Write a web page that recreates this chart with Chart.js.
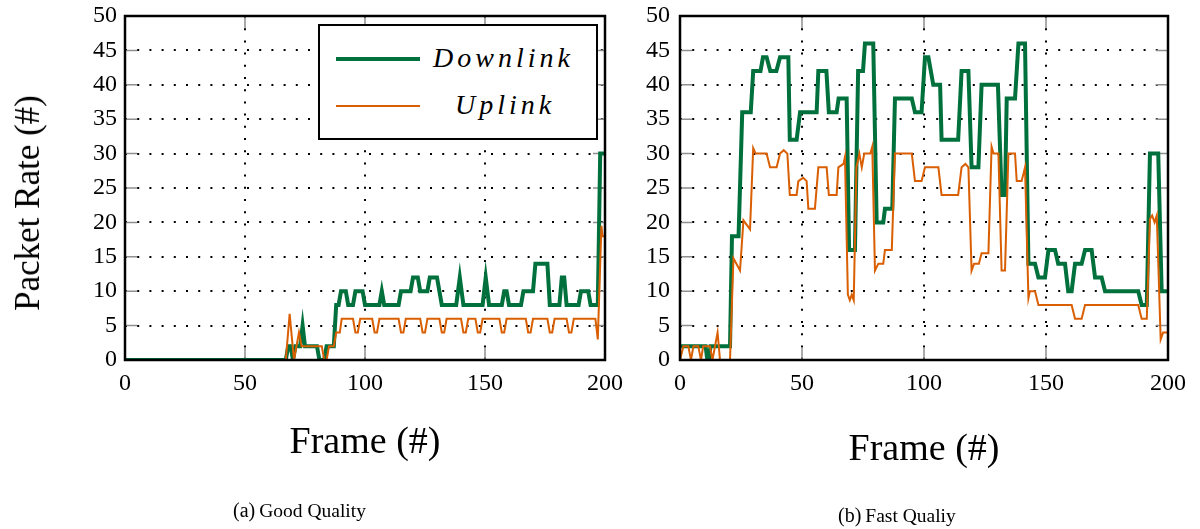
<!DOCTYPE html>
<html>
<head>
<meta charset="utf-8">
<script src="https://cdn.jsdelivr.net/npm/chart.js@4/dist/chart.umd.min.js"></script>
<style>
  body { margin: 0; background: #fff; font-family: "Liberation Serif", "Times New Roman", serif; }
  #page { position: relative; width: 1200px; height: 529px; overflow: hidden; }
  canvas { position: absolute; top: 0; }
  .txt { position: absolute; color: #000; white-space: nowrap; }
  #legend { position: absolute; left: 318px; top: 24px; width: 280px; height: 116px; box-sizing: border-box;
            border: 2.5px solid #000; background: #fff; }
  .lg-line { position: absolute; left: 16px; width: 84px; }
  .lg-text { position: absolute; font-style: italic; font-size: 28px; letter-spacing: 4px; line-height: 32px; }
</style>
</head>
<body>
<div id="page">
  <canvas id="good" width="630" height="529" style="left:0"></canvas>
  <canvas id="fast" width="570" height="529" style="left:630px"></canvas>

  <div class="txt" id="ytitle" style="font-size:35px; left:28px; top:203px; transform: translate(-50%, -50%) rotate(-90deg);">Packet Rate (#)</div>

  <div id="legend">
    <div class="lg-line" style="top:31px; height:4px; background:#00703c;"></div>
    <div class="lg-text" style="left:113px; top:16px;">Downlink</div>
    <div class="lg-line" style="top:79px; height:2px; background:#d95f02;"></div>
    <div class="lg-text" style="left:135px; top:63px;">Uplink</div>
  </div>

  <div class="txt" style="left:233px; top:499px;"><span style="font-size:20px">(a)</span> <span style="font-size:19.5px">Good Quality</span></div>
  <div class="txt" style="left:838px; top:504px;"><span style="font-size:20px">(b)</span> <span style="font-size:19.5px">Fast Qualiy</span></div>
</div>

<script>
// tick labels
const xTicks = [0, 50, 100, 150, 200];
const yTicks = [0, 5, 10, 15, 20, 25, 30, 35, 40, 45, 50];

// (a) Good Quality  -- [frame, packets]
const goodDownlink = [
  [0,0],[67,0],[68,2],[69,2],[70,0],[71,2],[73,2],[74,5],[75,2],[80,2],[81,0],[83,0],[84,2],[87,2],
  [88,8],[89,8],[90,10],[92,10],[93,8],[95,8],[96,10],[99,10],[100,8],[106,8],[107,10],[108,8],
  [114,8],[115,10],[119,10],[120,12],[122,12],[123,10],[126,10],[127,12],[130,12],[132,8],
  [138,8],[139.5,12],[141,8],[149,8],[150.3,12],[151.7,8],[157,8],[158,10],[159,10],[160,8],
  [165,8],[166,10],[170,10],[171,14],[176,14],[177,8],[181,8],[182,12],[183,12],[184,8],
  [189,8],[190,10],[193,10],[194,8],[197,8],[198,30],[200,30]
];
const goodUplink = [
  [0,0],[67,0],[68.6,6.7],[70.4,0],[72.5,4],[73.6,2],[82,2],[83,0],[84,0],[85,2],[87,2],[88,4],[89.5,4],[90.3,6],
  [95,6],[96,4],[97,4],[98,6],
  [103,6],[104,4],[105,4],[106,6],
  [114,6],[115,4],[116,4],[117,6],
  [123,6],[124,4],[125,4],[126,6],
  [131,6],[132,4],[133,4],[134,6],
  [140,6],[141,4],[142,4],[143,6],
  [146,6],[147,4],[148,4],[149,6],
  [156,6],[157,4],[158,4],[159,6],
  [167,6],[168,4],[169,4],[170,6],
  [176,6],[177,4],[178,4],[179,6],
  [184,6],[185,4],[186,4],[187,6],
  [196,6],[197,3],[198.5,19.5],[199,18],[200,18]
];

// (b) Fast Qualiy  -- [frame, packets]
const fastDownlink = [
  [0,2],[10.5,2],[11.2,0],[11.8,0],[12.5,2],[20.5,2],[21.3,18],[24,18],[25.5,36],[29,36],[30,42],[33,42],
  [34,44],[35.5,44],[37,42],[39.5,42],[41,44],[44.4,44],[45,32],[47.8,32],[49.2,36],[56,36],[56.7,42],[60,42],
  [61,36],[64.2,36],[65,38],[68.3,38],[69.3,16],[71.7,16],[73,42],[75,42],[75.8,46],[79.2,46],[80.6,20],[83.3,20],
  [84,22],[87,22],[88.1,38],[95,38],[96.3,36],[99,36],[100.4,44],[101.8,44],[103.8,40],[106.6,40],[107.2,32],[114,32],
  [115.4,42],[118.2,42],[119.5,28],[122.3,28],[123.6,40],[130.3,40],[131.8,24],[133.2,24],[133.9,38],[137.3,38],
  [138.7,46],[141.4,46],[142.8,14],[145.5,14],[146.9,12],[149.6,12],[151,16],[153.7,16],[155,14],[157.8,14],
  [159.1,10],[160.5,10],[161.9,14],[164.6,14],[166,16],[168.7,16],[170.1,12],[172.8,12],[174.2,10],[187.8,10],
  [189.2,8],[191.3,8],[192.6,30],[196,30],[197.4,10],[200,10]
];
const fastUplink = [
  [0,0],[1.4,2],[3.4,2],[4.5,0],[5.5,2],[7.5,2],[8.6,0],[9.5,2],[12.3,2],[13.3,0],[15.4,4],[16.4,0],[20.5,0],
  [21.9,14.8],[24.6,13],[26,20.3],[28.7,19],[30,30.8],[31,30],[35.5,30],[36.9,28],[39.6,28],[41,30],[42.5,30.5],[44,30],
  [45,24],[47.8,24],[48.5,26],[50.5,26.5],[51.9,26],[52.6,22],[55.3,22],[56.7,28],[60.1,28],[61,24],[64.2,24],
  [64.9,28],[67,28.5],[67.6,29.5],[68.8,9.5],[69.6,8.7],[70.4,9.5],[71.2,8.7],[72.3,28],[73.5,30],[74.5,28],[75.5,30],
  [78,30],[78.8,31],[79.9,13],[81.3,14],[83.3,14],[84,16],[86.8,16],[88.1,30],[95,30],[96.3,26],[99,26],[100.4,28],
  [105.9,28],[107.2,24],[114,24],[115.4,28],[117,28.5],[118.2,28],[119.5,13],[120.5,14],[122.5,14],[123.6,15.5],
  [126.4,15.5],[127.7,31],[128.5,30],[130.5,30],[131.8,13],[133.2,13],[134.6,30],[137.3,30],[138,26],[140,26],
  [141.4,28],[142.8,9],[143.4,10],[145.5,10],[146.9,8],[160.5,8],[161.9,6],[164.6,6],[166,8],[187.8,8],
  [189.2,6],[191.3,6],[192.6,20.5],[193.5,21],[194.5,20],[195.4,21],[197,3],[198,4],[200,4]
];

const SERIF = '"Liberation Serif", "Times New Roman", serif';
const GREEN = '#00703c';
const ORANGE = '#d95f02';

// inward grey tick marks on all four sides + black frame
const frameTicks = {
  id: 'frameTicks',
  beforeDatasetsDraw(chart) {
    const {ctx, chartArea: a, scales: {x, y}} = chart;
    const len = 12;
    ctx.save();
    ctx.strokeStyle = '#8f8f8f';
    ctx.lineWidth = 1.5;
    ctx.beginPath();
    x.ticks.forEach(t => {
      const px = x.getPixelForValue(t.value);
      ctx.moveTo(px, a.bottom); ctx.lineTo(px, a.bottom - len);
      ctx.moveTo(px, a.top); ctx.lineTo(px, a.top + len);
    });
    y.ticks.forEach(t => {
      const py = y.getPixelForValue(t.value);
      ctx.moveTo(a.left, py); ctx.lineTo(a.left + len, py);
      ctx.moveTo(a.right, py); ctx.lineTo(a.right - len, py);
    });
    ctx.stroke();
    ctx.restore();
  },
  afterDatasetsDraw(chart) {
    const {ctx, chartArea: a} = chart;
    ctx.save();
    ctx.strokeStyle = '#000';
    ctx.lineWidth = 2.5;
    ctx.strokeRect(a.left, a.top, a.right - a.left, a.bottom - a.top);
    ctx.restore();
  }
};

function makeChart(id, down, up, opt) {
  return new Chart(document.getElementById(id), {
    type: 'line',
    data: {
      datasets: [
        { label: 'Downlink', data: down, borderColor: GREEN, borderWidth: 4, order: 2 },
        { label: 'Uplink', data: up, borderColor: ORANGE, borderWidth: 2, order: 1 }
      ]
    },
    options: {
      responsive: false,
      animation: false,
      devicePixelRatio: 1,
      layout: { padding: { left: 0, right: opt.padRight, top: 16, bottom: 0 } },
      elements: { point: { radius: 0 }, line: { tension: 0, fill: false } },
      plugins: { legend: { display: false }, tooltip: { enabled: false } },
      scales: {
        x: {
          type: 'linear', min: 0, max: 200,
          afterBuildTicks: s => { s.ticks = xTicks.map(v => ({ value: v })); },
          afterFit: s => { s.height = 169; s.paddingLeft = 0; s.paddingRight = 0; },
          ticks: { font: { family: SERIF, size: 24 }, color: '#000', padding: 9, maxRotation: 0 },
          grid: { color: '#000', lineWidth: 2, drawTicks: false },
          border: { display: false, dash: [2, 10.2] },
          title: { display: true, text: 'Frame (#)', color: '#000',
                   font: { family: SERIF, size: 38 }, padding: { top: 0, bottom: opt.titlePad } }
        },
        y: {
          type: 'linear', min: 0, max: 50,
          afterBuildTicks: s => { s.ticks = yTicks.map(v => ({ value: v })); },
          afterFit: s => { s.width = opt.yWidth; s.paddingTop = 0; s.paddingBottom = 0; },
          ticks: { font: { family: SERIF, size: 24 }, color: '#000', padding: opt.yPad },
          grid: { color: '#000', lineWidth: 2, drawTicks: false },
          border: { display: false, dash: [2, 10.2] }
        }
      }
    },
    plugins: [frameTicks]
  });
}

makeChart('good', goodDownlink, goodUplink, { padRight: 25, yWidth: 125, yPad: 8, titlePad: 63 });
makeChart('fast', fastDownlink, fastUplink, { padRight: 32, yWidth: 50, yPad: 10, titlePad: 56 });
</script>
</body>
</html>
